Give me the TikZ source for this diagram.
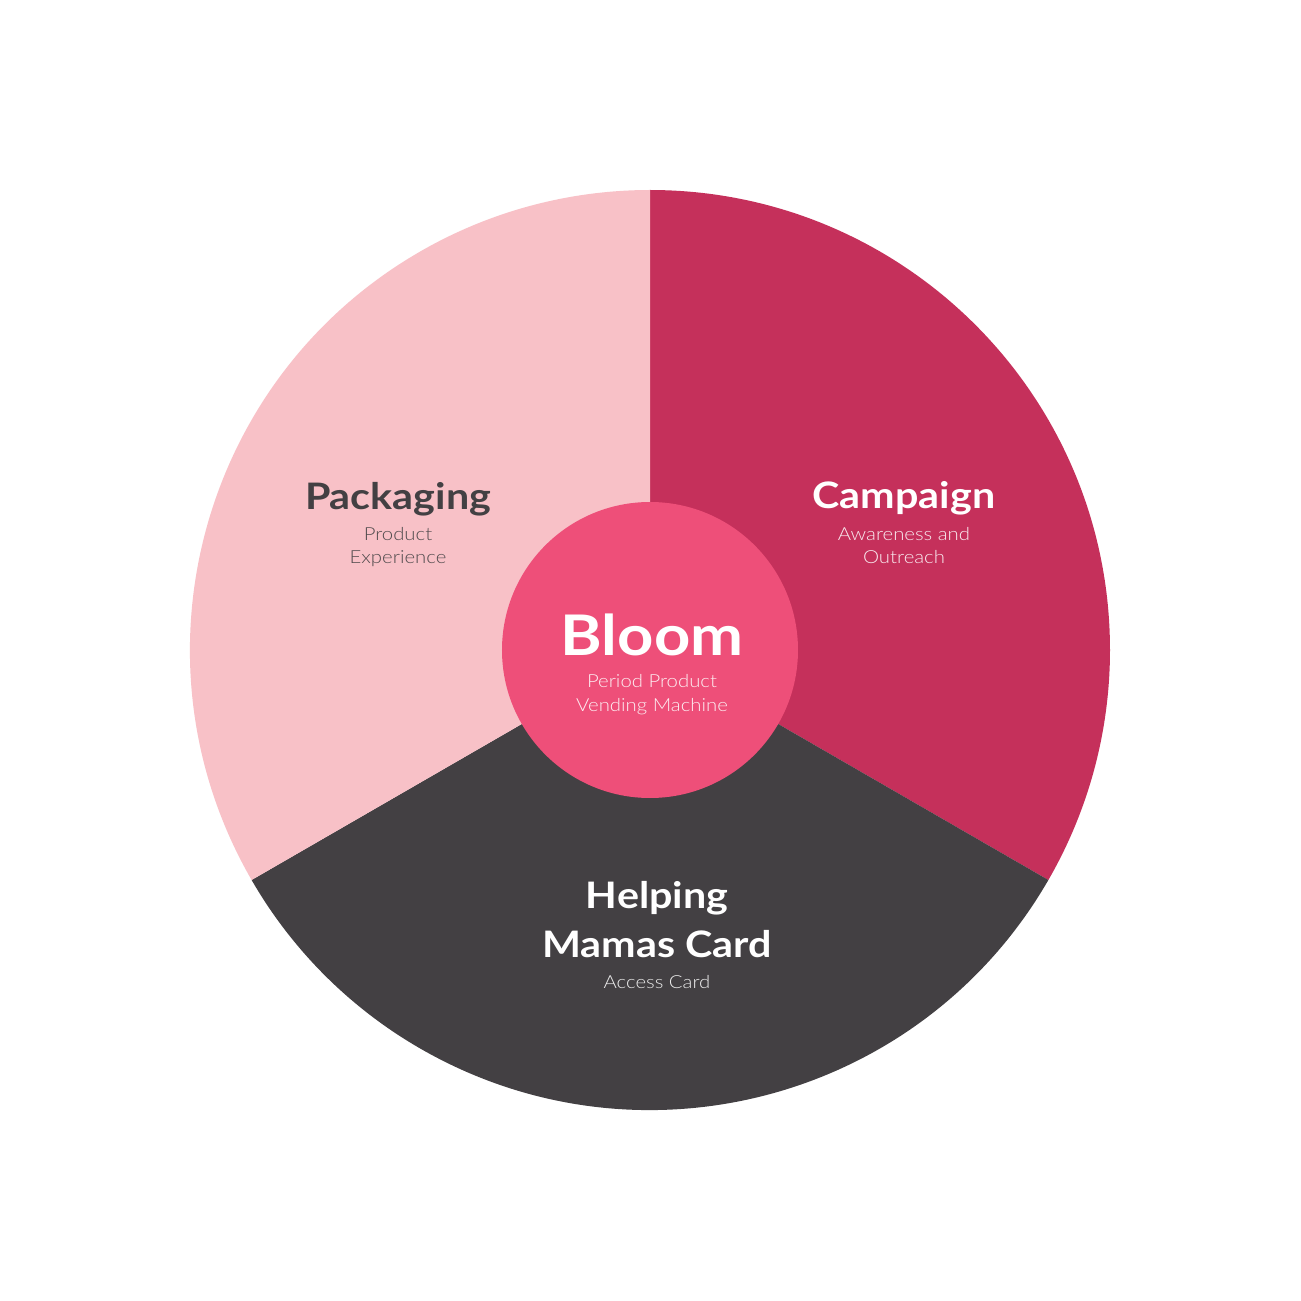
\documentclass[tikz,border=0pt]{standalone}
\usepackage{fontspec}
\setmainfont{Lato}[FakeStretch=1.13]
\newfontfamily\lightfont{Lato Light}[FakeStretch=1.13]
\definecolor{pkgpink}{HTML}{F8C1C7}
\definecolor{campred}{HTML}{C5305B}
\definecolor{cardgrey}{HTML}{434043}
\definecolor{bloompink}{HTML}{EE4F79}
\definecolor{subgrey}{HTML}{524C4E}
\tikzset{
  title/.style={anchor=base, font=\fontsize{36.5}{36.5}\selectfont\bfseries, inner sep=0pt},
  subtitle/.style={anchor=base, font=\fontsize{18}{18}\selectfont\lightfont, inner sep=0pt},
}
\begin{document}
\begin{tikzpicture}[x=1pt, y=1pt]
  \fill[white] (-650,-651) rectangle (651,650);
  \useasboundingbox (-650,-651) rectangle (651,650);
  % sectors
  \foreach \a/\b/\c in {90/-30/campred, -30/-150/cardgrey, 210/90/pkgpink}{
    \fill[\c] (0,0) -- (\a:460) arc[start angle=\a, end angle=\b, radius=460] -- cycle;
  }
  % centre
  \fill[bloompink] (0,0) circle (148);
  \node[title, text=cardgrey] (packaging) at (-252,140) {Packaging};
  \node[subtitle, text=subgrey] (packaging1) at (-252,110) {Product};
  \node[subtitle, text=subgrey] (packaging2) at (-252,86) {Experience};
  \node[title, text=white] (campaign) at (254,141) {Campaign};
  \node[subtitle, text=white!90!campred] (campaign1) at (254,110) {Awareness and};
  \node[subtitle, text=white!90!campred] (campaign2) at (254,86) {Outreach};
  \node[title, text=white, font=\fontsize{56}{56}\selectfont\bfseries] (bloom) at (2,-5) {Bloom};
  \node[subtitle, text=white!90!bloompink] (bloom1) at (2,-37) {Period Product};
  \node[subtitle, text=white!90!bloompink] (bloom2) at (2,-61) {Vending Machine};
  \node[title, text=white] (helping) at (7,-258) {Helping};
  \node[title, text=white] (mamas) at (7,-307) {Mamas Card};
  \node[subtitle, text=white!90!cardgrey] (access) at (7,-338) {Access Card};
\end{tikzpicture}
\end{document}
